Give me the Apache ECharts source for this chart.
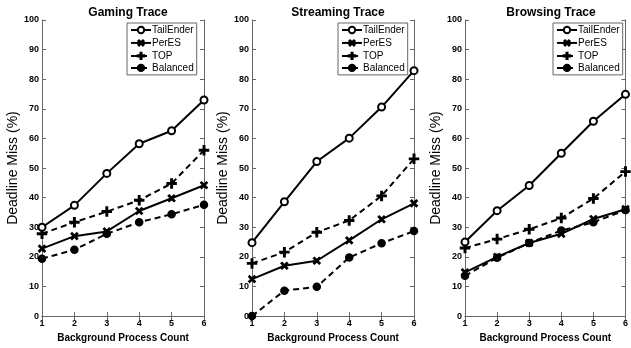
<!DOCTYPE html>
<html>
<head>
<meta charset="utf-8">
<script src="https://cdn.jsdelivr.net/npm/echarts@6/dist/echarts.min.js"></script>
<style>
  html, body { margin: 0; padding: 0; background: #fff; }
  #chart { width: 631px; height: 348px; }
</style>
</head>
<body>
<div id="chart"></div>
<script>
// background process count
const counts = [1, 2, 3, 4, 5, 6]
const methods = ['TailEnder', 'PerES', 'TOP', 'Balanced']
const panelTitles = ['Gaming Trace', 'Streaming Trace', 'Browsing Trace']
const yTicks = [0, 10, 20, 30, 40, 50, 60, 70, 80, 90, 100]

// deadline miss (%) per trace
const gamingTailEnder = [30, 37.4, 48.2, 58.2, 62.6, 73]
const gamingPerES = [22.8, 27, 28.6, 35.5, 39.8, 44.2]
const gamingTOP = [27.8, 31.7, 35.3, 39.1, 44.8, 56]
const gamingBalanced = [19.4, 22.4, 27.8, 31.7, 34.4, 37.6]

const streamingTailEnder = [24.8, 38.6, 52.2, 60.1, 70.6, 82.9]
const streamingPerES = [12.5, 17, 18.7, 25.6, 32.7, 38.1]
const streamingTOP = [17.8, 21.6, 28.3, 32.3, 40.6, 53.1]
const streamingBalanced = [0, 8.6, 9.9, 19.8, 24.6, 28.7]

const browsingTailEnder = [25, 35.6, 44.1, 55, 65.8, 74.9]
const browsingPerES = [14.8, 20, 24.7, 27.8, 32.8, 36.1]
const browsingTOP = [23, 26, 29.3, 33.1, 39.7, 48.8]
const browsingBalanced = [13.6, 19.7, 24.7, 28.9, 31.7, 35.8]

const panelData = [
  [gamingTailEnder, gamingPerES, gamingTOP, gamingBalanced],
  [streamingTailEnder, streamingPerES, streamingTOP, streamingBalanced],
  [browsingTailEnder, browsingPerES, browsingTOP, browsingBalanced]
]

const FONT = 'Liberation Sans, Arial, sans-serif'
const plusPath = 'path://M4.2,0h1.6v4.2h4.2v1.6h-4.2v4.2h-1.6v-4.2h-4.2v-1.6h4.2z'

// look of each method: line type + marker
const styles = {
  TailEnder: { type: 'solid', symbol: 'emptyCircle', size: 7, rotate: 0 },
  PerES: { type: 'solid', symbol: plusPath, size: 8, rotate: 45 },
  TOP: { type: [6, 4], symbol: plusPath, size: 9, rotate: 0 },
  Balanced: { type: [6, 4], symbol: 'circle', size: 7, rotate: 0 }
}

const gridLefts = [42, 252, 465]
const legendLefts = [127, 338, 553]
const plotWidth = 162

const chart = echarts.init(document.getElementById('chart'))

const grids = []
const xAxes = []
const yAxes = []
const titles = []
const legends = []
const series = []

const axisLineStyle = { color: '#666', width: 1 }

panelTitles.forEach((name, i) => {
  const left = gridLefts[i]
  grids.push({ left, top: 20, width: plotWidth, height: 297 })

  titles.push({
    text: name,
    left: left + plotWidth / 2,
    textAlign: 'center',
    top: 2,
    textStyle: { fontFamily: FONT, fontSize: 12, fontWeight: 'bold', color: '#000' }
  })

  // bottom axis
  xAxes.push({
    type: 'value', gridIndex: i, min: 1, max: 6, interval: 1,
    name: 'Background Process Count', nameLocation: 'middle', nameGap: 12,
    nameTextStyle: { fontFamily: FONT, fontSize: 10, fontWeight: 'bold', color: '#000' },
    axisLine: { show: true, lineStyle: axisLineStyle },
    axisTick: { show: true, inside: true, length: 4, lineStyle: axisLineStyle },
    axisLabel: { fontFamily: FONT, fontSize: 9, fontWeight: 'bold', color: '#000', margin: 3,
      formatter: v => counts.includes(v) ? String(v) : '' },
    splitLine: { show: false }
  })
  // top axis, just for the box ticks
  xAxes.push({
    type: 'value', gridIndex: i, position: 'top', min: 1, max: 6, interval: 1,
    axisLine: { show: true, lineStyle: axisLineStyle },
    axisTick: { show: true, inside: true, length: 4, lineStyle: axisLineStyle },
    axisLabel: { show: false },
    splitLine: { show: false }
  })

  yAxes.push({
    type: 'value', gridIndex: i, min: 0, max: 100, interval: 10,
    name: 'Deadline Miss (%)', nameLocation: 'middle', nameGap: 18,
    nameTextStyle: { fontFamily: FONT, fontSize: 14, color: '#000' },
    axisLine: { show: true, lineStyle: axisLineStyle },
    axisTick: { show: true, inside: true, length: 4, lineStyle: axisLineStyle },
    axisLabel: { fontFamily: FONT, fontSize: 9, fontWeight: 'bold', color: '#000', margin: 3,
      formatter: v => yTicks.includes(v) ? String(v) : '' },
    splitLine: { show: false }
  })
  yAxes.push({
    type: 'value', gridIndex: i, position: 'right', min: 0, max: 100, interval: 10,
    axisLine: { show: true, lineStyle: axisLineStyle },
    axisTick: { show: true, inside: true, length: 4, lineStyle: axisLineStyle },
    axisLabel: { show: false },
    splitLine: { show: false }
  })

  legends.push({
    data: methods,
    orient: 'vertical',
    left: legendLefts[i],
    top: 23,
    padding: [2, 3, 2, 3],
    itemGap: 2,
    itemWidth: 20,
    itemHeight: 8,
    backgroundColor: '#fff',
    borderColor: '#666',
    borderWidth: 1,
    borderRadius: 0,
    selectedMode: false,
    textStyle: { fontFamily: FONT, fontSize: 10, lineHeight: 10, color: '#000', padding: [0, 0, 0, -4] }
  })

  methods.forEach((m, k) => {
    const s = styles[m]
    series.push({
      name: m,
      type: 'line',
      xAxisIndex: i * 2,
      yAxisIndex: i * 2,
      data: counts.map((c, j) => [c, panelData[i][k][j]]),
      symbol: s.symbol,
      symbolSize: s.size,
      symbolRotate: s.rotate,
      showAllSymbol: true,
      lineStyle: { color: '#000', width: 2, type: s.type },
      itemStyle: { color: '#000', borderColor: '#000', borderWidth: 1.5 },
      emphasis: { disabled: true },
      z: 10 - k
    })
  })
})

chart.setOption({
  animation: false,
  backgroundColor: '#fff',
  title: titles,
  legend: legends,
  grid: grids,
  xAxis: xAxes,
  yAxis: yAxes,
  series
})
</script>
</body>
</html>
